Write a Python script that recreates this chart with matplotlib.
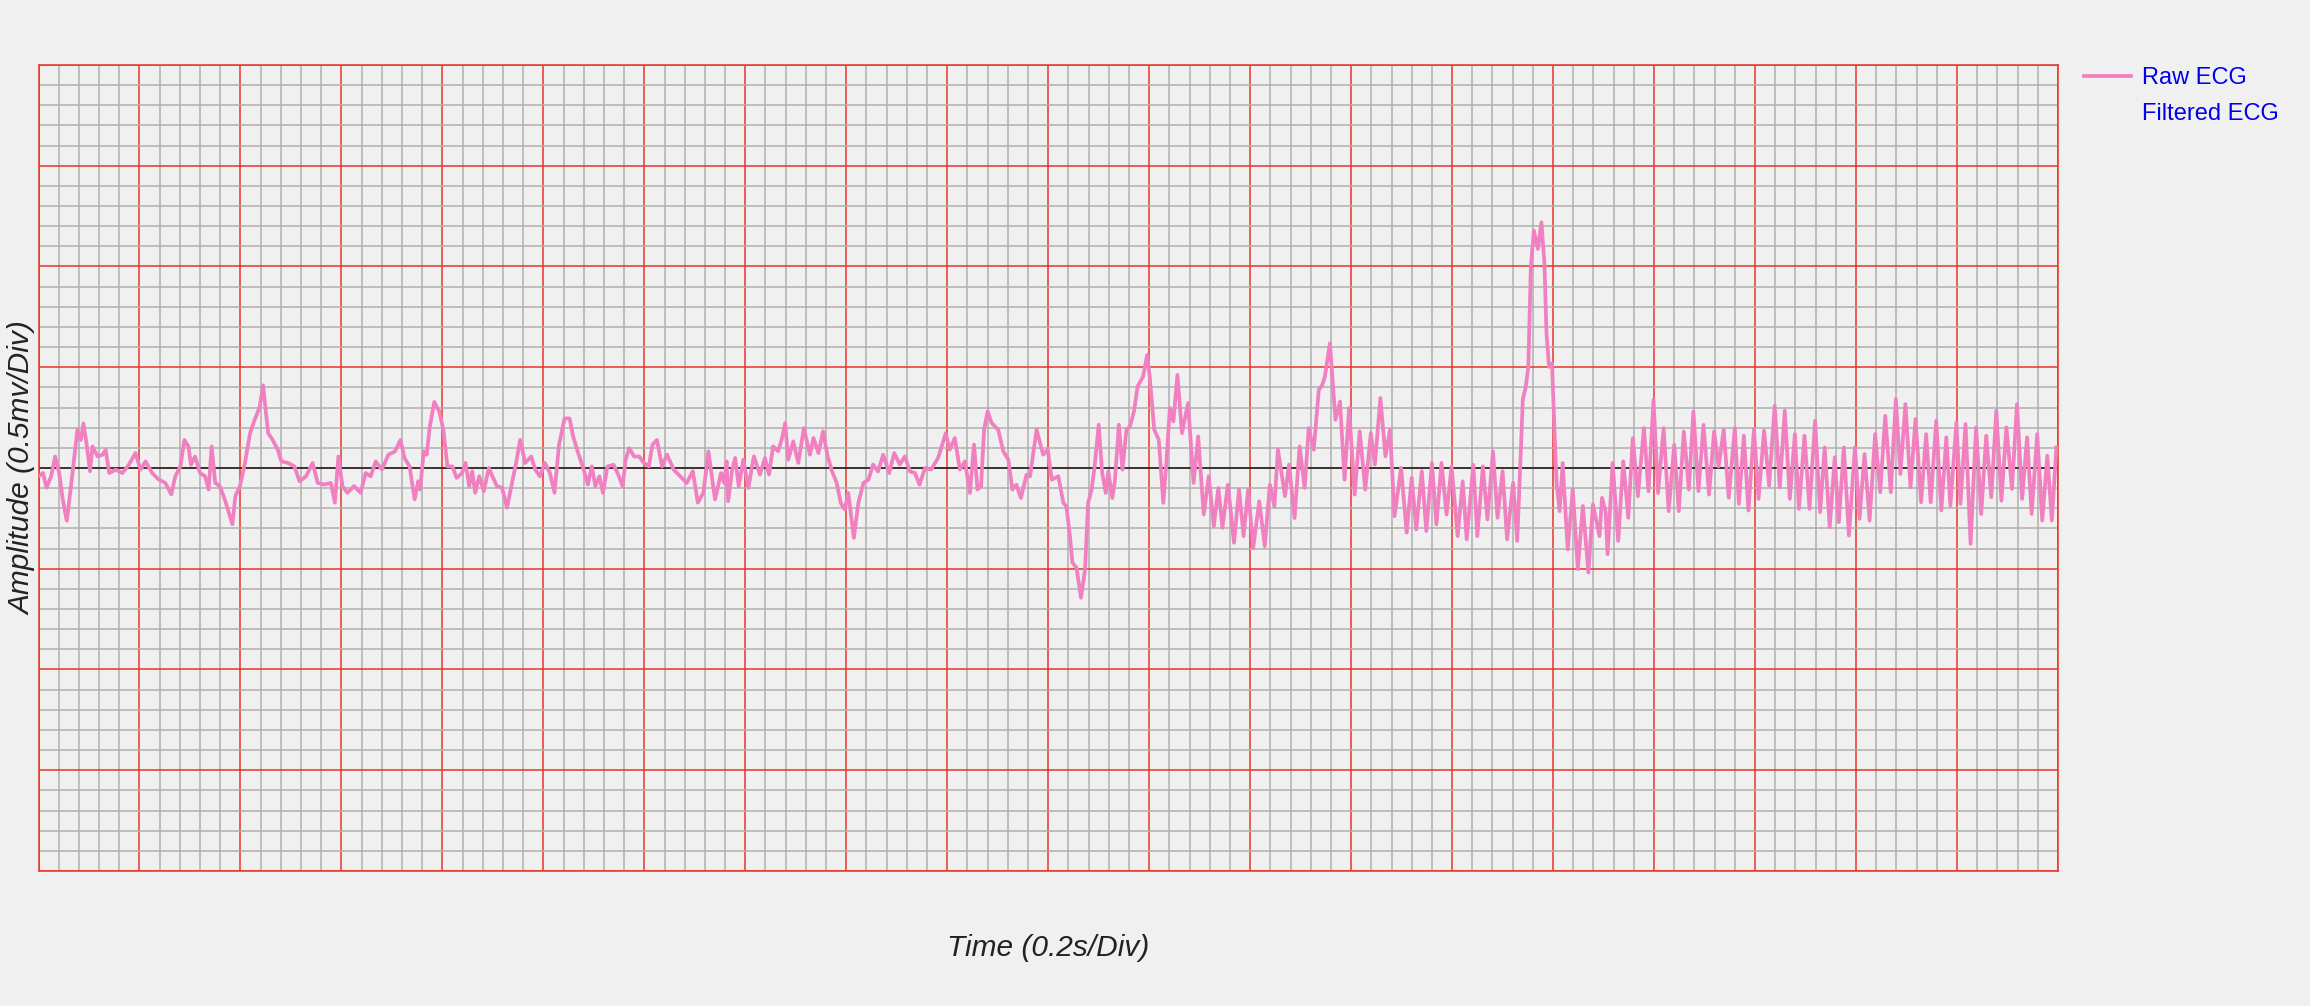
import matplotlib
matplotlib.use("Agg")
import matplotlib.pyplot as plt
import numpy as np

# time (s) and amplitude (mV)
t_raw = [
    0.000, 0.009, 0.016, 0.025, 0.033, 0.041, 0.048, 0.056, 0.064, 0.071,
    0.077, 0.084, 0.089, 0.095, 0.102, 0.107, 0.117, 0.127, 0.133, 0.140,
    0.153, 0.166, 0.179, 0.192, 0.202, 0.212, 0.225, 0.238, 0.251, 0.263,
    0.271, 0.281, 0.289, 0.297, 0.302, 0.310, 0.320, 0.330, 0.337, 0.343,
    0.350, 0.359, 0.369, 0.379, 0.384, 0.390, 0.399, 0.409, 0.419, 0.428,
    0.438, 0.445, 0.450, 0.455, 0.464, 0.474, 0.481, 0.494, 0.507, 0.517,
    0.530, 0.543, 0.553, 0.566, 0.579, 0.587, 0.594, 0.602, 0.612, 0.625,
    0.638, 0.648, 0.658, 0.668,
    0.680, 0.693, 0.706, 0.717, 0.725, 0.735, 0.745, 0.752, 0.756, 0.763,
    0.769, 0.775, 0.784, 0.794, 0.802, 0.810, 0.820, 0.828, 0.839, 0.846,
    0.853, 0.859, 0.865, 0.873, 0.882, 0.892, 0.899, 0.908, 0.918, 0.928,
    0.938, 0.946, 0.954, 0.964, 0.976, 0.984, 0.993, 1.003, 1.013, 1.022,
    1.031, 1.042, 1.052, 1.059, 1.069, 1.080, 1.088, 1.096, 1.103, 1.111,
    1.118, 1.127, 1.139, 1.147, 1.157, 1.163, 1.170, 1.180, 1.190, 1.199,
    1.209, 1.216, 1.225, 1.235, 1.245, 1.258, 1.271, 1.284, 1.296, 1.306,
    1.317, 1.327, 1.340,
    1.352, 1.358, 1.363, 1.366, 1.374, 1.380, 1.387, 1.396, 1.406, 1.417,
    1.429, 1.439, 1.447, 1.455, 1.465, 1.472, 1.479, 1.485, 1.495, 1.505,
    1.516, 1.528, 1.535, 1.545, 1.554, 1.563, 1.572, 1.581, 1.589, 1.597,
    1.604, 1.615, 1.624, 1.634, 1.644, 1.653, 1.663, 1.673, 1.685, 1.695,
    1.706, 1.716, 1.726, 1.736, 1.745, 1.756, 1.768, 1.782, 1.797, 1.805,
    1.815, 1.825, 1.835, 1.845, 1.853, 1.860, 1.867, 1.873, 1.880, 1.888,
    1.901, 1.911, 1.921, 1.929, 1.937, 1.946, 1.957, 1.964, 1.977, 1.990,
    1.999, 2.007, 2.020,
    2.030, 2.036, 2.043, 2.048, 2.056, 2.065, 2.073, 2.079, 2.086, 2.092,
    2.100, 2.107, 2.114, 2.119, 2.127, 2.132, 2.140, 2.147, 2.155, 2.162,
    2.170, 2.177, 2.188, 2.196, 2.201, 2.210, 2.219, 2.228, 2.234, 2.241,
    2.248, 2.256, 2.265, 2.277, 2.288, 2.297, 2.308, 2.318, 2.328, 2.337,
    2.345, 2.356, 2.368, 2.378, 2.387, 2.396, 2.406, 2.418, 2.429, 2.439,
    2.448, 2.455, 2.469, 2.477, 2.488, 2.498, 2.508, 2.516, 2.526, 2.536,
    2.543, 2.548, 2.558, 2.569, 2.578, 2.587, 2.596, 2.607, 2.617, 2.628,
    2.639, 2.647, 2.658, 2.668, 2.677, 2.686,
    2.699, 2.710, 2.720, 2.729, 2.740, 2.749, 2.760, 2.769, 2.779, 2.789,
    2.799, 2.811, 2.821, 2.829, 2.842, 2.850, 2.861, 2.870, 2.881, 2.890,
    2.900, 2.909, 2.921, 2.929, 2.936, 2.940, 2.946, 2.951, 2.956, 2.962,
    2.970, 2.977, 2.983, 2.987, 2.992, 2.998, 3.003, 3.007, 3.013, 3.019,
    3.029, 3.039, 3.049, 3.059, 3.070, 3.079, 3.092, 3.097, 3.104, 3.108,
    3.118, 3.129, 3.139, 3.149, 3.158, 3.168, 3.180, 3.189, 3.199, 3.208,
    3.219, 3.229, 3.240, 3.249, 3.259, 3.269, 3.278, 3.288, 3.298, 3.309,
    3.319, 3.328, 3.338, 3.348, 3.360,
    3.368, 3.378, 3.387, 3.398, 3.407, 3.418, 3.428, 3.439, 3.449, 3.459,
    3.469, 3.479, 3.487, 3.498, 3.508, 3.519, 3.529, 3.538, 3.548, 3.558,
    3.566, 3.576, 3.586, 3.598, 3.607, 3.617, 3.627, 3.638, 3.648, 3.658,
    3.669, 3.679, 3.688, 3.698, 3.708, 3.718, 3.729, 3.739, 3.748, 3.759,
    3.769, 3.779, 3.787, 3.799, 3.807, 3.817, 3.827, 3.838, 3.848, 3.858,
    3.868, 3.878, 3.888, 3.898, 3.909, 3.919, 3.929, 3.939, 3.948, 3.959,
    3.969, 3.979, 3.988, 3.997,
]
v_raw = [
    -0.041, -0.025, -0.098, -0.041, 0.057, -0.025, -0.156, -0.262, -0.098, 0.057,
    0.189, 0.139, 0.221, 0.123, -0.016, 0.107, 0.057, 0.066, 0.090, -0.025,
    -0.008, -0.025, 0.016, 0.074, -0.008, 0.033, -0.025, -0.057, -0.074, -0.131,
    -0.041, 0.008, 0.139, 0.107, 0.016, 0.057, -0.025, -0.041, -0.107, 0.107,
    -0.074, -0.090, -0.156, -0.238, -0.279, -0.139, -0.090, 0.025, 0.172, 0.238,
    0.303, 0.410, 0.287, 0.172, 0.139, 0.090, 0.033, 0.025, 0.008, -0.066,
    -0.041, 0.025, -0.074, -0.082, -0.074, -0.172, 0.057, -0.090, -0.123, -0.090,
    -0.123, -0.025, -0.041, 0.033,
    -0.008, 0.066, 0.082, 0.139, 0.049, 0.008, -0.156, -0.066, -0.107, 0.082,
    0.066, 0.205, 0.328, 0.279, 0.189, 0.008, 0.008, -0.049, -0.025, 0.025,
    -0.090, -0.016, -0.123, -0.041, -0.115, 0.000, -0.041, -0.090, -0.098, -0.197,
    -0.074, 0.025, 0.139, 0.025, 0.057, -0.008, -0.041, 0.025, -0.025, -0.123,
    0.115, 0.246, 0.246, 0.156, 0.074, -0.008, -0.082, 0.008, -0.090, -0.041,
    -0.123, 0.008, 0.016, -0.025, -0.090, 0.041, 0.098, 0.057, 0.057, 0.025,
    0.008, 0.115, 0.139, 0.008, 0.066, -0.008, -0.041, -0.074, -0.016, -0.172,
    -0.123, 0.082, -0.156,
    -0.025, -0.074, 0.033, -0.165, -0.008, 0.050, -0.091, 0.041, -0.099, 0.058,
    -0.033, 0.050, -0.033, 0.107, 0.083, 0.140, 0.223, 0.041, 0.132, 0.025,
    0.198, 0.066, 0.149, 0.074, 0.182, 0.058, -0.017, -0.074, -0.173, -0.206,
    -0.124, -0.347, -0.173, -0.074, -0.058, 0.017, -0.017, 0.066, -0.025, 0.074,
    0.017, 0.058, -0.017, -0.025, -0.083, 0.000, -0.008, 0.050, 0.173, 0.091,
    0.149, -0.008, 0.033, -0.124, 0.116, -0.107, -0.091, 0.190, 0.281, 0.223,
    0.190, 0.083, 0.041, -0.107, -0.083, -0.149, -0.033, -0.041, 0.190, 0.066,
    0.091, -0.058, -0.041,
    -0.173, -0.190, -0.338, -0.470, -0.495, -0.644, -0.503, -0.173, -0.107, 0.008,
    0.215, -0.025, -0.124, -0.017, -0.149, -0.066, 0.215, -0.008, 0.190, 0.206,
    0.281, 0.404, 0.454, 0.561, 0.454, 0.190, 0.140, -0.173, 0.025, 0.297,
    0.231, 0.462, 0.173, 0.322, -0.074, 0.157, -0.231, -0.041, -0.289, -0.099,
    -0.297, -0.083, -0.371, -0.107, -0.338, -0.107, -0.396, -0.165, -0.388, -0.083,
    -0.190, 0.091, -0.140, 0.017, -0.248, 0.107, -0.099, 0.198, 0.091, 0.388,
    0.413, 0.454, 0.619, 0.239, 0.330, -0.058, 0.297, -0.132, 0.182, -0.107,
    0.173, 0.017, 0.347, 0.058, 0.190, -0.239,
    0.000, -0.321, -0.049, -0.305, -0.016, -0.313, 0.025, -0.280, 0.025, -0.231,
    0.008, -0.338, -0.066, -0.354, 0.016, -0.338, 0.008, -0.255, 0.082, -0.247,
    -0.016, -0.354, -0.074, -0.362, 0.074, 0.338, 0.404, 0.502, 0.996, 1.178,
    1.087, 1.219, 1.013, 0.667, 0.502, 0.519, 0.173, -0.074, -0.214, 0.025,
    -0.404, -0.107, -0.502, -0.189, -0.519, -0.181, -0.338, -0.148, -0.214, -0.428,
    0.025, -0.362, 0.033, -0.247, 0.148, -0.140, 0.198, -0.115, 0.338, -0.124,
    0.198, -0.214, 0.115, -0.214, 0.181, -0.107, 0.280, -0.115, 0.214, -0.132,
    0.181, 0.008, 0.189, -0.148, 0.198,
    -0.178, 0.160, -0.211, 0.193, -0.153, 0.185, -0.087, 0.309, -0.096, 0.284,
    -0.153, 0.168, -0.203, 0.160, -0.203, 0.234, -0.219, 0.102, -0.294, 0.053,
    -0.269, 0.102, -0.335, 0.102, -0.252, 0.069, -0.261, 0.168, -0.120, 0.259,
    -0.120, 0.342, -0.030, 0.317, -0.096, 0.243, -0.170, 0.168, -0.170, 0.234,
    -0.211, 0.152, -0.186, 0.226, -0.178, 0.218, -0.376, 0.201, -0.228, 0.160,
    -0.145, 0.284, -0.162, 0.201, -0.104, 0.317, -0.153, 0.152, -0.228, 0.168,
    -0.261, 0.061, -0.261, 0.102,
]
t_filtered = []
v_filtered = []

bg = "#f0f0f0"
plt.rcParams["font.family"] = ["Liberation Sans", "DejaVu Sans"]

fig = plt.figure(figsize=(23.1, 10.06), dpi=100, facecolor=bg)
ax = fig.add_axes([0.01667, 0.1342, 0.8742, 0.8012], facecolor=bg)

ax.plot(t_raw, v_raw, color="#f080c0", lw=2.7, label="Raw ECG", zorder=3)
ax.plot(t_filtered, v_filtered, color="none", lw=2.7, label="Filtered ECG")
ax.axhline(0, color="#303030", lw=1.3, zorder=2)

ax.set_xlim(0, 4)
ax.set_ylim(-2, 2)
ax.set_xticks(np.arange(0, 4.001, 0.2))
ax.set_xticks(np.arange(0, 4.001, 0.04), minor=True)
ax.set_yticks(np.arange(-2, 2.001, 0.5))
ax.set_yticks(np.arange(-2, 2.001, 0.1), minor=True)
ax.set_axisbelow(True)
ax.grid(which="minor", color="#b0b0b0", lw=1.1)
ax.grid(which="major", color="#e8352a", lw=1.1)
ax.tick_params(which="both", length=0, labelbottom=False, labelleft=False)
for s in ax.spines.values():
    s.set_color("#e8352a")
    s.set_linewidth(1.1)

ax.set_xlabel("Time (0.2s/Div)", fontsize=21.5, style="italic", color="#222222")
ax.xaxis.set_label_coords(0.5, -0.078)
ax.set_ylabel("Amplitude (0.5mv/Div)", fontsize=21.5, style="italic", color="#222222")
ax.yaxis.set_label_coords(-0.001, 0.5)

fig.legend(loc="upper left", bbox_to_anchor=(2084 / 2310, 1 - 67 / 1006),
           frameon=False, fontsize=17, labelcolor="#0000ee",
           handlelength=2.0, handletextpad=0.47, labelspacing=0.58,
           borderpad=0, borderaxespad=0)

fig.savefig("out.png", dpi=100, facecolor=bg)
